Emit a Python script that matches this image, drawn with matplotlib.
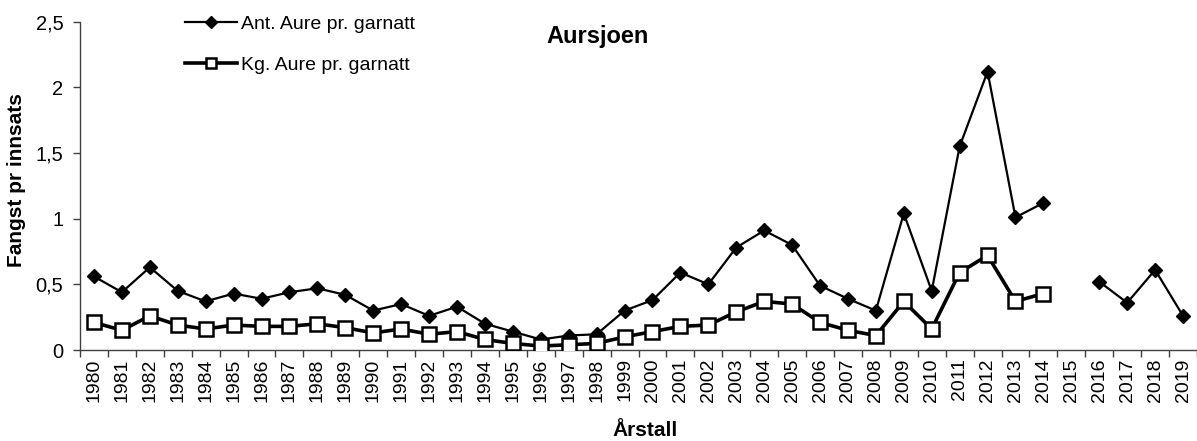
import numpy as np
import matplotlib
matplotlib.use("Agg")
import matplotlib.pyplot as plt

plt.rcParams["font.family"] = ["Liberation Sans", "DejaVu Sans"]

# Data
aar = list(range(1980, 2020))
ant_aure = [0.56, 0.44, 0.63, 0.45, 0.37, 0.43, 0.39, 0.44, 0.47, 0.42,
            0.30, 0.35, 0.26, 0.33, 0.20, 0.14, 0.08, 0.11, 0.12, 0.30,
            0.38, 0.59, 0.50, 0.78, 0.91, 0.80, 0.49, 0.39, 0.30, 1.04,
            0.45, 1.55, 2.12, 1.01, 1.12, np.nan, 0.52, 0.36, 0.61, 0.26]
kg_aure = [0.21, 0.15, 0.26, 0.19, 0.16, 0.19, 0.18, 0.18, 0.20, 0.17,
           0.13, 0.16, 0.12, 0.14, 0.08, 0.05, 0.03, 0.04, 0.05, 0.10,
           0.14, 0.18, 0.19, 0.29, 0.37, 0.35, 0.21, 0.15, 0.11, 0.37,
           0.16, 0.59, 0.72, 0.37, 0.43, np.nan, np.nan, np.nan, np.nan, np.nan]
y_ticks = [0, 0.5, 1, 1.5, 2, 2.5]
y_labels = ["0", "0,5", "1", "1,5", "2", "2,5"]

fig = plt.figure(figsize=(11.97, 4.41), dpi=100)
ax = fig.add_axes([80 / 1197, 1 - 350 / 441, 1 - 80 / 1197, (350 - 21.7) / 441])

x = np.arange(len(aar))
ax.plot(x, ant_aure, color="black", lw=1.6, marker="D", ms=7.5,
        mfc="black", mec="black", label="Ant. Aure pr. garnatt", zorder=3)
ax.plot(x, kg_aure, color="black", lw=2.6, marker="s", ms=9.5,
        mfc="white", mec="black", mew=1.8, label="Kg. Aure pr. garnatt", zorder=4)

ax.set_xlim(-0.5, len(aar) - 0.5)
ax.set_ylim(0, 2.5)
ax.set_yticks(y_ticks)
ax.set_yticklabels(y_labels, fontsize=14.5)
ax.set_xticks(x)
ax.set_xticklabels([str(a) for a in aar], rotation=90, fontsize=14)
ax.set_xticks(np.arange(-0.5, len(aar)), minor=True)
ax.tick_params(axis="x", which="major", length=0, pad=6)
ax.tick_params(axis="x", which="minor", length=5, width=1, color="#404040")
ax.tick_params(axis="y", length=5, width=1, color="#404040", pad=7)

for s in ["top", "right"]:
    ax.spines[s].set_visible(False)
for s in ["left", "bottom"]:
    ax.spines[s].set_color("#404040")
    ax.spines[s].set_linewidth(1)

ax.legend(loc="upper left", bbox_to_anchor=(0.094, 1.02), frameon=False,
          fontsize=14, handlelength=2.7, handletextpad=0.2, labelspacing=1.2,
          borderaxespad=0, borderpad=0, markerscale=0.8)

fig.text(598 / 1197, 1 - 37 / 441, "Aursjoen", fontsize=17, fontweight="bold",
         ha="center", va="center")
fig.text(17 / 1197, 1 - 180 / 441, "Fangst pr innsats", fontsize=15,
         fontweight="bold", rotation=90, ha="center", va="center")
fig.text(645 / 1197, 1 - 430 / 441, "Årstall", fontsize=15, fontweight="bold",
         ha="center", va="center")

fig.savefig("out.png", dpi=100)
